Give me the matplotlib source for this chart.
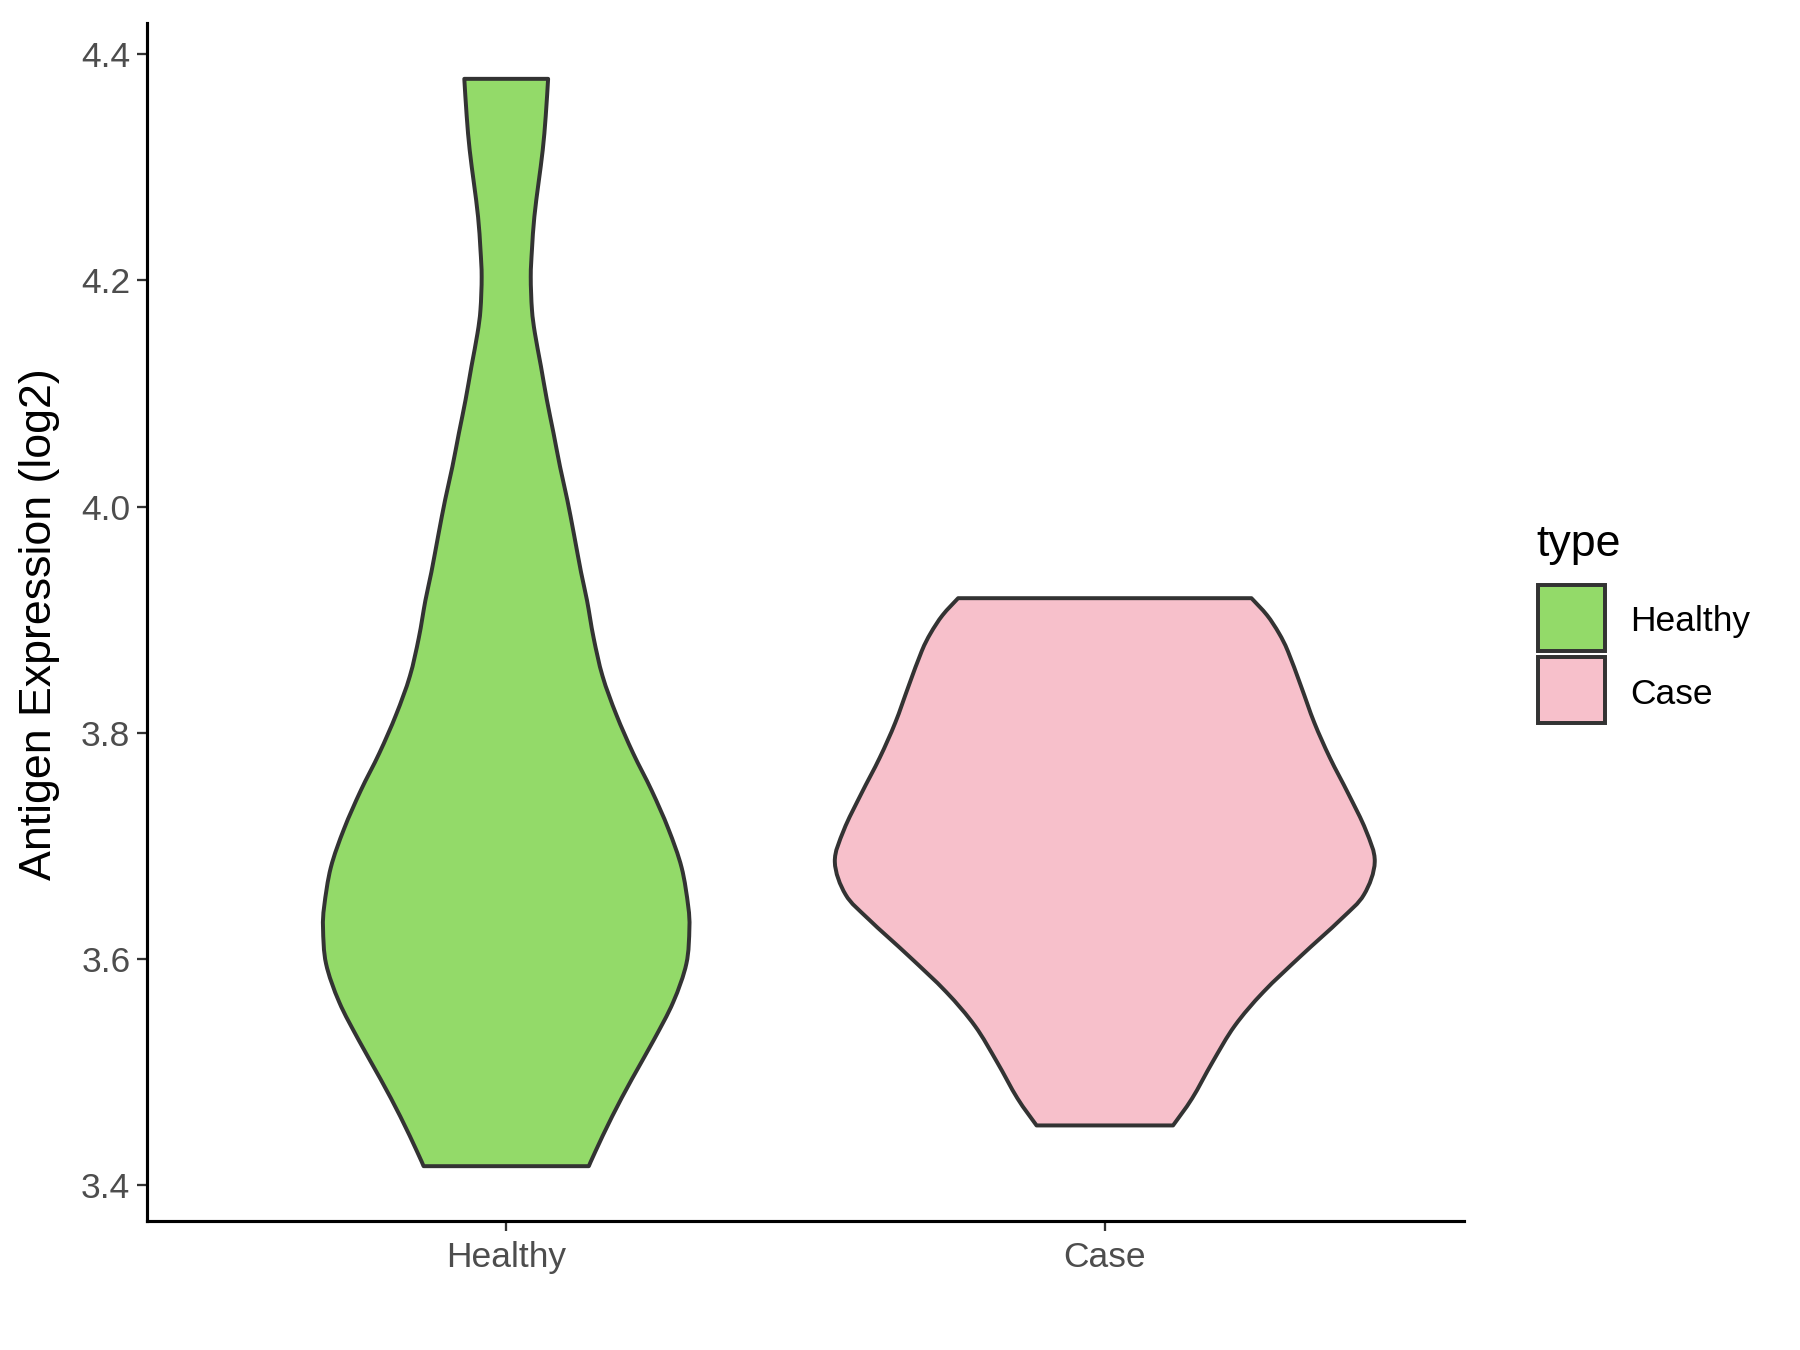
import numpy as np
import matplotlib
matplotlib.use("Agg")
import matplotlib.pyplot as plt
from matplotlib.patches import Rectangle, PathPatch
from matplotlib.path import Path

plt.rcParams['font.family'] = ['Liberation Sans', 'DejaVu Sans']

categories = ["Healthy", "Case"]
colors = ["#93DA69", "#F7C0CB"]
edge_color = "#333333"

# Violin profiles: expression value -> half-width (x units)
healthy_values = [3.417, 3.430, 3.461, 3.494, 3.528, 3.562, 3.596, 3.627, 3.647, 3.681,
                  3.715, 3.749, 3.782, 3.816, 3.850, 3.884, 3.917, 3.942, 3.976, 4.006,
                  4.035, 4.065, 4.094, 4.124, 4.153, 4.174, 4.203, 4.227, 4.256, 4.286,
                  4.315, 4.345, 4.378]
healthy_halfwidth = [0.138, 0.149, 0.177, 0.210, 0.246, 0.279, 0.301, 0.306, 0.304, 0.293,
                     0.271, 0.243, 0.212, 0.184, 0.161, 0.146, 0.135, 0.125, 0.113, 0.102,
                     0.090, 0.079, 0.068, 0.058, 0.048, 0.043, 0.041, 0.043, 0.047, 0.054,
                     0.061, 0.066, 0.070]

case_values = [3.453, 3.477, 3.509, 3.541, 3.571, 3.603, 3.635, 3.657, 3.686, 3.714,
               3.746, 3.778, 3.809, 3.841, 3.872, 3.888, 3.904, 3.919]
case_halfwidth = [0.114, 0.146, 0.180, 0.217, 0.265, 0.328, 0.394, 0.433, 0.451, 0.436,
                  0.407, 0.376, 0.350, 0.328, 0.306, 0.291, 0.271, 0.245]

profiles = [(healthy_values, healthy_halfwidth), (case_values, case_halfwidth)]

y_ticks = [3.4, 3.6, 3.8, 4.0, 4.2, 4.4]
y_ticklabels = ["3.4", "3.6", "3.8", "4.0", "4.2", "4.4"]


def smooth_segments(xs, ys):
    """Catmull-Rom curve through the given points, as Bezier segments."""
    pts = np.column_stack([xs, ys])
    n = len(pts)
    verts, codes = [], []
    for i in range(n - 1):
        p0 = pts[i - 1] if i > 0 else pts[i]
        p1 = pts[i]
        p2 = pts[i + 1]
        p3 = pts[i + 2] if i + 2 < n else pts[i + 1]
        c1 = p1 + (p2 - p0) / 6.0
        c2 = p2 - (p3 - p1) / 6.0
        verts += [tuple(c1), tuple(c2), tuple(p2)]
        codes += [Path.CURVE4] * 3
    return verts, codes


fig = plt.figure(figsize=(12, 9), dpi=150)
ax = fig.add_axes([0.0817, 0.0956, 0.8133 - 0.0817, 0.983 - 0.0956])

for i, (vals, hw) in enumerate(profiles):
    center = i + 1
    v = np.array(vals)
    w = np.array(hw)
    left_x, left_y = center - w, v              # bottom -> top
    right_x, right_y = (center + w)[::-1], v[::-1]  # top -> bottom
    verts = [(left_x[0], left_y[0])]
    codes = [Path.MOVETO]
    sv, sc = smooth_segments(left_x, left_y)
    verts += sv; codes += sc
    verts.append((right_x[0], right_y[0])); codes.append(Path.LINETO)
    sv, sc = smooth_segments(right_x, right_y)
    verts += sv; codes += sc
    verts.append((left_x[0], left_y[0])); codes.append(Path.CLOSEPOLY)
    patch = PathPatch(Path(verts, codes), facecolor=colors[i], edgecolor=edge_color,
                      linewidth=1.9, joinstyle='round', zorder=2)
    ax.add_patch(patch)

ax.set_xlim(0.4, 2.6)
ax.set_ylim(3.3686, 4.4274)
ax.set_xticks([1, 2])
ax.set_xticklabels(categories)
ax.set_yticks(y_ticks)
ax.set_yticklabels(y_ticklabels)

for s in ["top", "right"]:
    ax.spines[s].set_visible(False)
for s in ["left", "bottom"]:
    ax.spines[s].set_color("black")
    ax.spines[s].set_linewidth(1.5)

ax.tick_params(axis='both', colors="#333333", length=5, width=1.1, labelsize=17,
               labelcolor="#4D4D4D")
ax.tick_params(axis='x', pad=4.5)
ax.tick_params(axis='y', pad=3)

fig.text(40 / 1800, 0.5374, "Antigen Expression (log2)", rotation=90,
         ha='center', va='center', fontsize=21.5, color='black')

# Legend
fig.text(1536 / 1800, 1 - 556 / 1350, "type", ha='left', va='baseline',
         fontsize=21.5, color='black')
key_x = 1538 / 1800
key_w = 67 / 1800
key_h = 66 / 1350
key_bottoms = [1 - 651 / 1350, 1 - 723 / 1350]
for i, lab in enumerate(categories):
    fig.add_artist(Rectangle((key_x, key_bottoms[i]), key_w, key_h,
                             transform=fig.transFigure, facecolor=colors[i],
                             edgecolor=edge_color, linewidth=1.9))
    fig.text(1630 / 1800, key_bottoms[i] + key_h / 2 - 4 / 1350, lab, ha='left',
             va='center', fontsize=17, color='black')

fig.savefig("out.png", dpi=150, facecolor='white')
